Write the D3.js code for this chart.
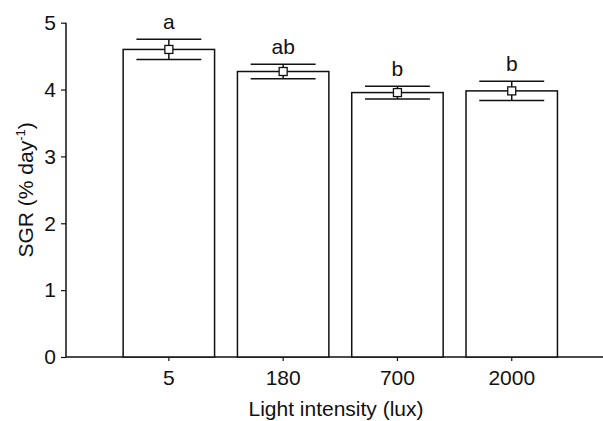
<!DOCTYPE html>
<html>
<head>
<meta charset="utf-8">
<script src="https://cdn.jsdelivr.net/npm/d3@7"></script>
<style>
  body { margin: 0; background: #fff; }
  text { font-family: "Liberation Sans", Arial, sans-serif; fill: #111; }
</style>
</head>
<body>
<div id="chart"></div>
<script>
// light intensity groups and SGR means / error
const categories = ["5", "180", "700", "2000"];
const means = [4.60, 4.27, 3.955, 3.98];
const errors = [0.152, 0.11, 0.095, 0.143];
const letters = ["a", "ab", "b", "b"];
const yTicks = [0, 1, 2, 3, 4, 5];

const W = 603, H = 421;
const ink = "#111";
const fs = "21px";

const svg = d3.select("#chart")
    .append("svg")
    .attr("width", W)
    .attr("height", H);

// scales
const x = d3.scaleBand()
    .domain(categories)
    .range([66, 614.6])
    .paddingInner(0.2)
    .paddingOuter(0.5);

const y = d3.scaleLinear().domain([0, 5]).range([357, 22.7]);

// y axis
const yAxis = d3.axisLeft(y)
    .tickValues(yTicks)
    .tickFormat(d3.format("d"))
    .tickSize(5)
    .tickPadding(5);
const gy = svg.append("g")
    .attr("transform", "translate(66,0)")
    .call(yAxis);
gy.select(".domain").remove();
gy.append("line")
    .attr("x1", 0).attr("x2", 0)
    .attr("y1", y(5)).attr("y2", y(0))
    .attr("stroke", ink).attr("stroke-width", 1.5);
gy.selectAll(".tick line").attr("stroke", ink).attr("stroke-width", 1.2);
gy.selectAll(".tick text")
    .style("font-size", fs)
    .attr("fill", ink);

// x axis
const xAxis = d3.axisBottom(x).tickSize(4).tickPadding(9);
const gx = svg.append("g")
    .attr("transform", `translate(0,${y(0)})`)
    .call(xAxis);
gx.select(".domain").remove();
gx.append("line")
    .attr("x1", 66).attr("x2", W)
    .attr("y1", 0).attr("y2", 0)
    .attr("stroke", ink).attr("stroke-width", 1.5);
gx.selectAll(".tick line").attr("stroke", ink).attr("stroke-width", 1.2);
gx.selectAll(".tick text")
    .style("font-size", fs)
    .attr("fill", ink);

// bars
svg.selectAll(".bar")
    .data(categories)
    .enter()
    .append("rect")
    .attr("class", "bar")
    .attr("x", (d) => x(d))
    .attr("width", x.bandwidth())
    .attr("y", (d, i) => y(means[i]))
    .attr("height", (d, i) => y(0) - y(means[i]))
    .attr("fill", "#fff")
    .attr("stroke", ink)
    .attr("stroke-width", 1.5);

// error bars
const capHalf = x.bandwidth() * 0.355;
const errG = svg.selectAll(".err")
    .data(categories)
    .enter()
    .append("g")
    .attr("class", "err")
    .attr("transform", (d) => `translate(${x(d) + x.bandwidth() / 2},0)`);

errG.append("line")
    .attr("y1", (d, i) => y(means[i] + errors[i]))
    .attr("y2", (d, i) => y(means[i] - errors[i]))
    .attr("stroke", ink).attr("stroke-width", 1.5);
errG.append("line")
    .attr("x1", -capHalf).attr("x2", capHalf)
    .attr("y1", (d, i) => y(means[i] + errors[i]))
    .attr("y2", (d, i) => y(means[i] + errors[i]))
    .attr("stroke", ink).attr("stroke-width", 1.5);
errG.append("line")
    .attr("x1", -capHalf).attr("x2", capHalf)
    .attr("y1", (d, i) => y(means[i] - errors[i]))
    .attr("y2", (d, i) => y(means[i] - errors[i]))
    .attr("stroke", ink).attr("stroke-width", 1.5);

// mean markers
errG.append("rect")
    .attr("x", -4).attr("width", 8)
    .attr("y", (d, i) => y(means[i]) - 4).attr("height", 8)
    .attr("fill", "#fff")
    .attr("stroke", ink).attr("stroke-width", 1.3);

// significance letters
errG.append("text")
    .attr("text-anchor", "middle")
    .attr("y", (d, i) => y(means[i] + errors[i]) - 10)
    .style("font-size", fs)
    .text((d, i) => letters[i]);

// axis titles
svg.append("text")
    .attr("x", 336)
    .attr("y", 416)
    .attr("text-anchor", "middle")
    .style("font-size", fs)
    .text("Light intensity (lux)");

const yl = svg.append("text")
    .attr("transform", `translate(33,${y(2.5)}) rotate(-90)`)
    .attr("text-anchor", "middle")
    .style("font-size", fs);
yl.append("tspan").text("SGR (% day");
yl.append("tspan").attr("dy", -8).style("font-size", "13px").text("-1");
yl.append("tspan").attr("dy", 8).text(")");
</script>
</body>
</html>
